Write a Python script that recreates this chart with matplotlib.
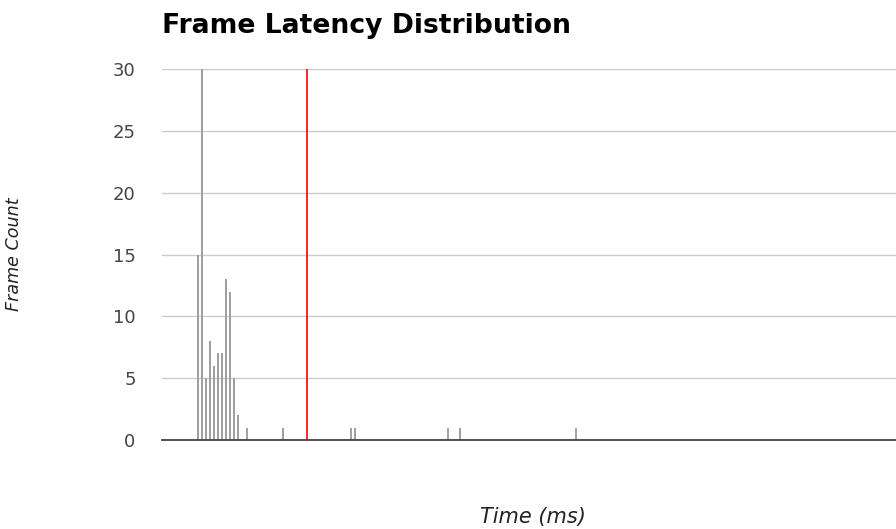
#!/usr/bin/python3
#
# Frame latency histogram, one thin bar per 1 ms bin, with the budget marker.

import matplotlib

matplotlib.use("Agg")
import matplotlib.pyplot as plt

from matplotlib import rcParams

title = "Frame Latency Distribution"
x_label = "Time (ms)"
y_label = "Frame Count"

# Bin start (ms) and number of frames in that bin.
frame_times = [9, 10, 11, 12, 13, 14, 15, 16, 17, 18, 19, 21, 30, 47, 48, 71, 74, 103]
frame_counts = [15, 30, 5, 8, 6, 7, 7, 13, 12, 5, 2, 1, 1, 1, 1, 1, 1, 1]
budget_ms = 36
y_ticks = [0, 5, 10, 15, 20, 25, 30]
x_range = (0, 182.4)


def gen_chart(filename):
    rcParams["font.family"] = ["DejaVu Sans"]
    fig = plt.figure(figsize=(8.96, 5.29), dpi=100)
    W, H = 896, 529
    ax = fig.add_axes([162 / W, 1 - 440 / H, (896 - 162) / W, (440 - 69) / H])

    ax.bar(frame_times, frame_counts, width=0.5, color="#a0a0a0", edgecolor="none",
           zorder=3)
    ax.axvline(budget_ms, color="#ff0000", linewidth=1.2, zorder=4)

    ax.set_xlim(*x_range)
    ax.set_ylim(0, 30)
    ax.set_yticks(y_ticks)
    ax.set_xticks([])
    ax.grid(axis="y", color="#cccccc", linewidth=1.0, zorder=0)
    for side in ("top", "right", "left"):
        ax.spines[side].set_visible(False)
    ax.spines["bottom"].set_color("#444444")
    ax.spines["bottom"].set_linewidth(1.3)
    ax.spines["bottom"].set_zorder(5)
    ax.tick_params(axis="y", length=0, pad=19, labelsize=13, labelcolor="#444444")

    fig.text(162 / W, 1 - 33 / H, title, fontsize=19.2, fontweight="bold",
             color="#000000", ha="left", va="baseline")
    fig.text(14 / W, 1 - 254 / H, y_label, fontsize=12.6, style="italic",
             color="#222222", rotation=90, ha="center", va="center")
    fig.text(533 / W, 1 - 517 / H, x_label, fontsize=15, style="italic",
             color="#222222", ha="center", va="center")

    fig.savefig(filename, dpi=100)


def main():
    gen_chart("out.png")


if __name__ == "__main__":
    main()
